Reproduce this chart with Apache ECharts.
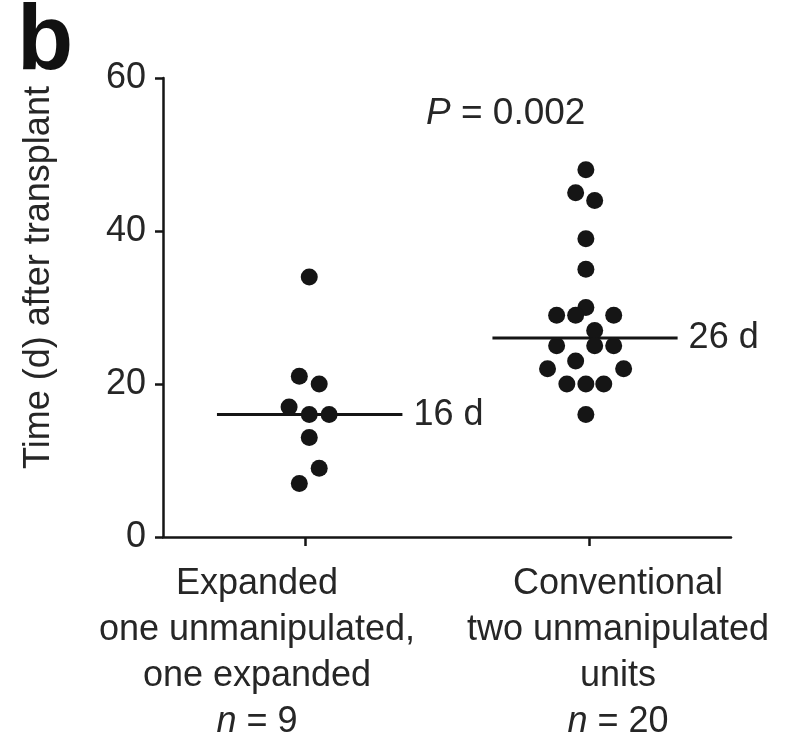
<!DOCTYPE html>
<html>
<head>
<meta charset="utf-8">
<script src="https://cdn.jsdelivr.net/npm/echarts@6/dist/echarts.min.js"></script>
<style>
html,body{margin:0;padding:0;background:#fff;}
#chart{width:794px;height:745px;}
</style>
</head>
<body>
<div id="chart"></div>
<script>
// ---- data ----
const categories = ['Expanded\none unmanipulated,\none expanded', 'Conventional\ntwo unmanipulated\nunits'];
const groupN = [9, 20];
const expandedDays = [34, 21, 20, 17, 16, 16, 13, 9, 7];
const expandedJitter = [0.015, -0.020, 0.050, -0.056, 0.015, 0.085, 0.015, 0.050, -0.020];
const conventionalDays = [48, 45, 44, 39, 35, 30, 29, 29, 29, 27, 25, 25, 25, 23, 22, 22, 20, 20, 20, 16];
const conventionalJitter = [-0.011, -0.047, 0.020, -0.011, -0.011, -0.011, -0.114, -0.047, 0.087, 0.020, -0.114, 0.020, 0.087, -0.047, -0.146, 0.122, -0.078, -0.011, 0.052, -0.011];
const medians = [16, 26];
const yTicks = [0, 20, 40, 60];
const pValue = '0.002';
const panelLetter = 'b';
const yTitle = 'Time (d) after transplant';

// ---- styling ----
const FONT = '"Liberation Sans", Arial, Helvetica, sans-serif';
const TXT = '#262626';
const INK = '#151515';
const FS = 36;
const medianSpan = [[-0.31, 0.343], [-0.34, 0.312]];
const labelShift = [[0, 96, 0, 0], [0, 0, 0, 58]];

const groups = [
  { days: expandedDays, jitter: expandedJitter },
  { days: conventionalDays, jitter: conventionalJitter }
];

const series = [];
groups.forEach((g, gi) => {
  series.push({
    type: 'scatter',
    xAxisIndex: 1,
    symbol: 'circle',
    symbolSize: 17,
    itemStyle: { color: INK, opacity: 1 },
    silent: true,
    z: 3,
    data: g.days.map((d, i) => [gi + g.jitter[i], d])
  });
  series.push({
    type: 'line',
    xAxisIndex: 1,
    symbol: 'none',
    showSymbol: false,
    silent: true,
    z: 2,
    lineStyle: { color: INK, width: 3 },
    endLabel: {
      show: true, distance: 11, formatter: medians[gi] + ' d',
      fontFamily: FONT, fontSize: FS, color: TXT
    },
    data: [
      [gi + medianSpan[gi][0], medians[gi]],
      [gi + medianSpan[gi][1], medians[gi]]
    ]
  });
});

const chart = echarts.init(document.getElementById('chart'));
chart.setOption({
  backgroundColor: '#fff',
  animation: false,
  grid: { left: 163, right: 63, top: 78, bottom: 205, containLabel: false },
  xAxis: [
    {
      type: 'category',
      data: categories.map((c, i) => ({ value: c, textStyle: { padding: labelShift[i] } })),
      boundaryGap: true,
      axisLine: { onZero: false, lineStyle: { color: INK, width: 2.5 } },
      axisTick: { show: true, alignWithLabel: true, length: 9, lineStyle: { color: INK, width: 2.5 } },
      axisLabel: {
        interval: 0,
        margin: 24,
        fontFamily: FONT,
        fontSize: FS,
        lineHeight: 46,
        color: TXT,
        align: 'center',
        formatter: (v, i) => v + '\n{i|n} = ' + groupN[i],
        rich: { i: { fontStyle: 'italic', fontFamily: FONT, fontSize: FS, lineHeight: 46, color: TXT } }
      },
      splitLine: { show: false }
    },
    {
      type: 'value',
      min: -0.5, max: 1.5,
      show: false
    }
  ],
  yAxis: {
    type: 'value',
    min: yTicks[0], max: yTicks[yTicks.length - 1], interval: 20,
    name: yTitle,
    nameLocation: 'middle',
    nameRotate: 90,
    nameGap: 106,
    nameTextStyle: { fontFamily: FONT, fontSize: FS, color: TXT, padding: [0, 0, 0, 60] },
    axisLine: { show: true, onZero: false, lineStyle: { color: INK, width: 2.5 } },
    axisTick: { show: true, length: 8, lineStyle: { color: INK, width: 2.5 } },
    axisLabel: { margin: 17, fontFamily: FONT, fontSize: FS, color: TXT },
    splitLine: { show: false }
  },
  graphic: [
    {
      type: 'text',
      left: 17, top: -2,
      style: { text: panelLetter, fontFamily: FONT, fontWeight: 'bold', fontSize: 92, fill: '#111' }
    },
    {
      type: 'text',
      left: 426, top: 95,
      style: {
        text: '{p|P} = ' + pValue,
        fontFamily: FONT, fontSize: 37, fill: TXT,
        rich: { p: { fontStyle: 'italic', fontFamily: FONT, fontSize: 37, fill: TXT } }
      }
    }
  ],
  series: series
});
</script>
</body>
</html>
